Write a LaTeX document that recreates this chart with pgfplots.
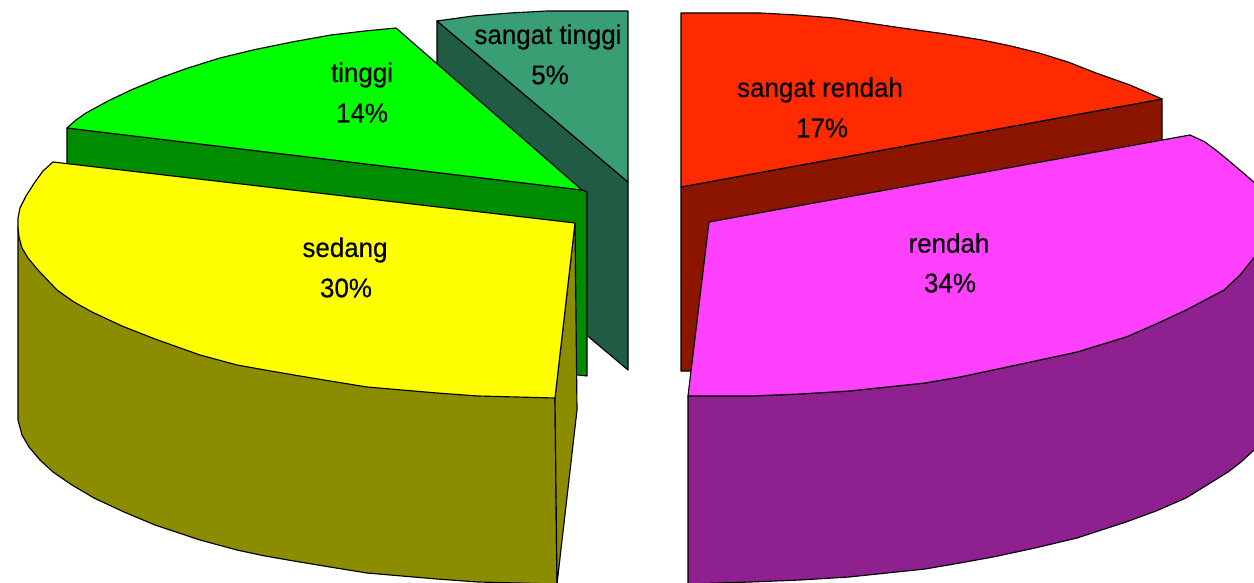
\documentclass[border=0pt]{standalone}
\usepackage{fontspec}
\setmainfont[FakeBold=0.35]{Liberation Sans}
\usepackage{pgfplots}
\pgfplotsset{compat=1.18}
\definecolor{stLight}{HTML}{3A9E75}
\definecolor{stDark}{HTML}{1F5C43}
\definecolor{tLight}{HTML}{00FF00}
\definecolor{tDark}{HTML}{008C00}
\definecolor{sLight}{HTML}{FFFF00}
\definecolor{sDark}{HTML}{8C8C00}
\definecolor{srLight}{HTML}{FF2A00}
\definecolor{srDark}{HTML}{8C1500}
\definecolor{rLight}{HTML}{FF40FF}
\definecolor{rDark}{HTML}{8F2090}
\tikzset{lab/.style={font=\fontsize{27}{30}\selectfont,xscale=0.96,text=black,inner sep=0pt}}
\begin{document}
\begin{tikzpicture}
\useasboundingbox (0,0) rectangle (1254pt,583pt);
\begin{axis}[anchor=south west,at={(0,0)},scale only axis,width=1254pt,height=583pt,
  xmin=0,xmax=1254,ymin=0,ymax=583,y dir=reverse,hide axis,clip=true,
  every axis plot/.append style={draw=black,line width=1.15pt,line join=round,mark=none}]
% sangat tinggi 5%
\addplot[fill=stDark] coordinates {(437,21)(628,182)(628,370)(437,209)} -- cycle;
\addplot[fill=stLight] coordinates {(437,21)(473,16)(510,13)(547,11)(628,11)(628,182)} -- cycle;
% tinggi 14%
\addplot[fill=tDark] coordinates {(67,128)(582,190)(587,192)(587,376)(67,316)} -- cycle;
\addplot[fill=tLight] coordinates {(67,128)(76,120)(86,113)(108,101)(131,90)(160,78)(188,68)(220,58)(253,50)(292,42)(331,35)(365,31)(396,28)(582,190)} -- cycle;
% sangat rendah 17%
\addplot[fill=srDark] coordinates {(681,187)(1162,99)(1162,145)(800,300)(695,371)(681,371)} -- cycle;
\addplot[fill=srLight] coordinates {(681,13)(760,13)(797,15)(834,18)(868,23)(902,28)(942,33.5)(982,40)(1011,46)(1039,53)(1068,62)(1096,73)(1130,85)(1162,99)(681,187)} -- cycle;
% sedang 30%
\addplot[fill=sDark] coordinates {(18,227)(18,420)(22,435)(29,447)(40,460)(53,472)(72,485)(94,498)(124,512)(155,525)(200,540)(237,550)(265,556)(294,561)(330,567)(367,573)(437,579)(478,582)(557,584)(555,398)} -- cycle;
\addplot[fill=sDark] coordinates {(575,223)(577,410)(557,584)(555,398)} -- cycle;
\addplot[fill=sLight] coordinates {(53,162)(43,171)(35,182)(26,196)(20,208)(18,218)(18,227)(19,237)(22,248)(28,258)(38,270)(57,290)(74,302)(92,312)(122,326)(155,339)(200,355)(237,365)(265,370)(294,375)(330,381)(367,387)(437,393)(478,396)(555,398)(575,223)} -- cycle;
% rendah 34%
\addplot[fill=rDark] coordinates {(688,396)(751,396)(800,394)(849,391)(887,387)(925,383)(960,377)(993,370)(1035,361)(1077,352)(1126,337)(1156,324)(1186,310)(1224,290)(1240,275)(1254,257)(1256,257)(1256,450)(1254,450)(1241,462)(1228,472)(1186,498)(1156,511)(1126,522)(1077,538)(1035,548)(993,557)(960,563)(925,569)(887,573)(849,577)(800,580)(751,582)(688,584)} -- cycle;
\addplot[fill=rLight] coordinates {(709,222)(1190,135)(1205,142)(1217,151)(1228,160)(1241,171)(1256,184)(1256,255)(1240,275)(1224,290)(1186,310)(1156,324)(1126,337)(1077,352)(1035,361)(993,370)(960,377)(925,383)(887,387)(849,391)(800,394)(751,396)(688,396)} -- cycle;
% labels
\node[lab] at (axis cs:548,37) {sangat tinggi};
\node[lab] at (axis cs:550,75) {5\%};
\node[lab] at (axis cs:362,75) {tinggi};
\node[lab] at (axis cs:362,113) {14\%};
\node[lab] at (axis cs:345,250) {sedang};
\node[lab] at (axis cs:346,288) {30\%};
\node[lab] at (axis cs:820,90) {sangat rendah};
\node[lab] at (axis cs:822,128) {17\%};
\node[lab] at (axis cs:949,243) {rendah};
\node[lab] at (axis cs:950,283) {34\%};
\end{axis}
\end{tikzpicture}
\end{document}
